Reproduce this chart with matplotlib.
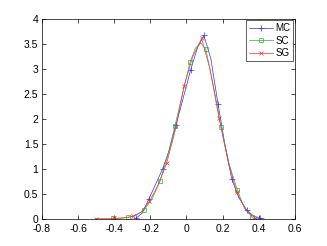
import matplotlib
matplotlib.use("Agg")
import matplotlib.pyplot as plt

plt.rcParams["font.family"] = ["Liberation Sans", "DejaVu Sans"]

# MC (Monte Carlo) density estimate
mc_x = [-0.28, -0.244, -0.208, -0.17, -0.132, -0.095, -0.059, -0.018, 0.023, 0.06,
        0.096, 0.135, 0.175, 0.212, 0.25, 0.29, 0.333, 0.37, 0.406, 0.43]
mc_y = [0.01, 0.12, 0.40, 0.70, 1.00, 1.38, 1.87, 2.42, 2.98, 3.42,
        3.67, 3.20, 2.29, 1.50, 0.80, 0.42, 0.18, 0.06, 0.01, 0.0]
mc_marks = [0, 2, 4, 6, 8, 10, 12, 14, 16, 18]

# SC
sc_x = [-0.409, -0.365, -0.322, -0.28, -0.236, -0.19, -0.147, -0.105, -0.064, -0.022,
        0.019, 0.05, 0.08, 0.107, 0.15, 0.192, 0.236, 0.281, 0.32, 0.363, 0.375]
sc_y = [0.01, 0.015, 0.03, 0.07, 0.17, 0.40, 0.75, 1.25, 1.86, 2.50,
        3.13, 3.42, 3.52, 3.39, 2.65, 1.83, 1.10, 0.58, 0.22, 0.03, 0.0]
sc_marks = [0, 2, 4, 6, 8, 10, 13, 15, 17, 19]

# SG
sg_x = [-0.501, -0.45, -0.399, -0.35, -0.297, -0.25, -0.205, -0.157, -0.11, -0.06,
        -0.014, 0.035, 0.084, 0.13, 0.18, 0.23, 0.278, 0.33, 0.378, 0.39]
sg_y = [0.005, 0.008, 0.01, 0.02, 0.05, 0.14, 0.35, 0.68, 1.11, 1.80,
        2.65, 3.25, 3.61, 3.00, 2.01, 1.15, 0.53, 0.17, 0.02, 0.0]
sg_marks = [0, 2, 4, 6, 8, 10, 12, 14, 16, 18]

x_ticks = [-0.8, -0.6, -0.4, -0.2, 0, 0.2, 0.4, 0.6]
x_labels = ["-0.8", "-0.6", "-0.4", "-0.2", "0", "0.2", "0.4", "0.6"]
y_ticks = [0, 0.5, 1, 1.5, 2, 2.5, 3, 3.5, 4]
y_labels = ["0", "0.5", "1", "1.5", "2", "2.5", "3", "3.5", "4"]

fig = plt.figure(figsize=(3.27, 2.46), dpi=100)
ax = fig.add_axes([0.128, 0.110, 0.774, 0.813])

ax.plot(mc_x, mc_y, color="#3030ff", lw=0.5, marker="+", ms=4, mew=0.5,
        markevery=mc_marks, label="MC")
ax.plot(sc_x, sc_y, color="#30b030", lw=0.5, marker="s", ms=3.5, mew=0.5,
        mfc="none", markevery=sc_marks, label="SC")
ax.plot(sg_x, sg_y, color="#ff3030", lw=0.5, marker="x", ms=3.5, mew=0.5,
        markevery=sg_marks, label="SG")

ax.set_xlim(-0.8, 0.6)
ax.set_ylim(0, 4)
ax.set_xticks(x_ticks)
ax.set_xticklabels(x_labels)
ax.set_yticks(y_ticks)
ax.set_yticklabels(y_labels)
ax.tick_params(direction="in", top=True, right=True, length=3, width=0.5,
               labelsize=7.5)
ax.tick_params(axis="x", pad=4)
ax.tick_params(axis="y", pad=2.5)
for s in ax.spines.values():
    s.set_linewidth(0.5)

leg = ax.legend(loc="upper right", fontsize=7, fancybox=False, framealpha=1,
                edgecolor="#444444", borderpad=0.3, labelspacing=0.25,
                handlelength=2.4, handletextpad=0.3, borderaxespad=0.15)
leg.get_frame().set_linewidth(0.6)

fig.savefig("out.png", dpi=100)
